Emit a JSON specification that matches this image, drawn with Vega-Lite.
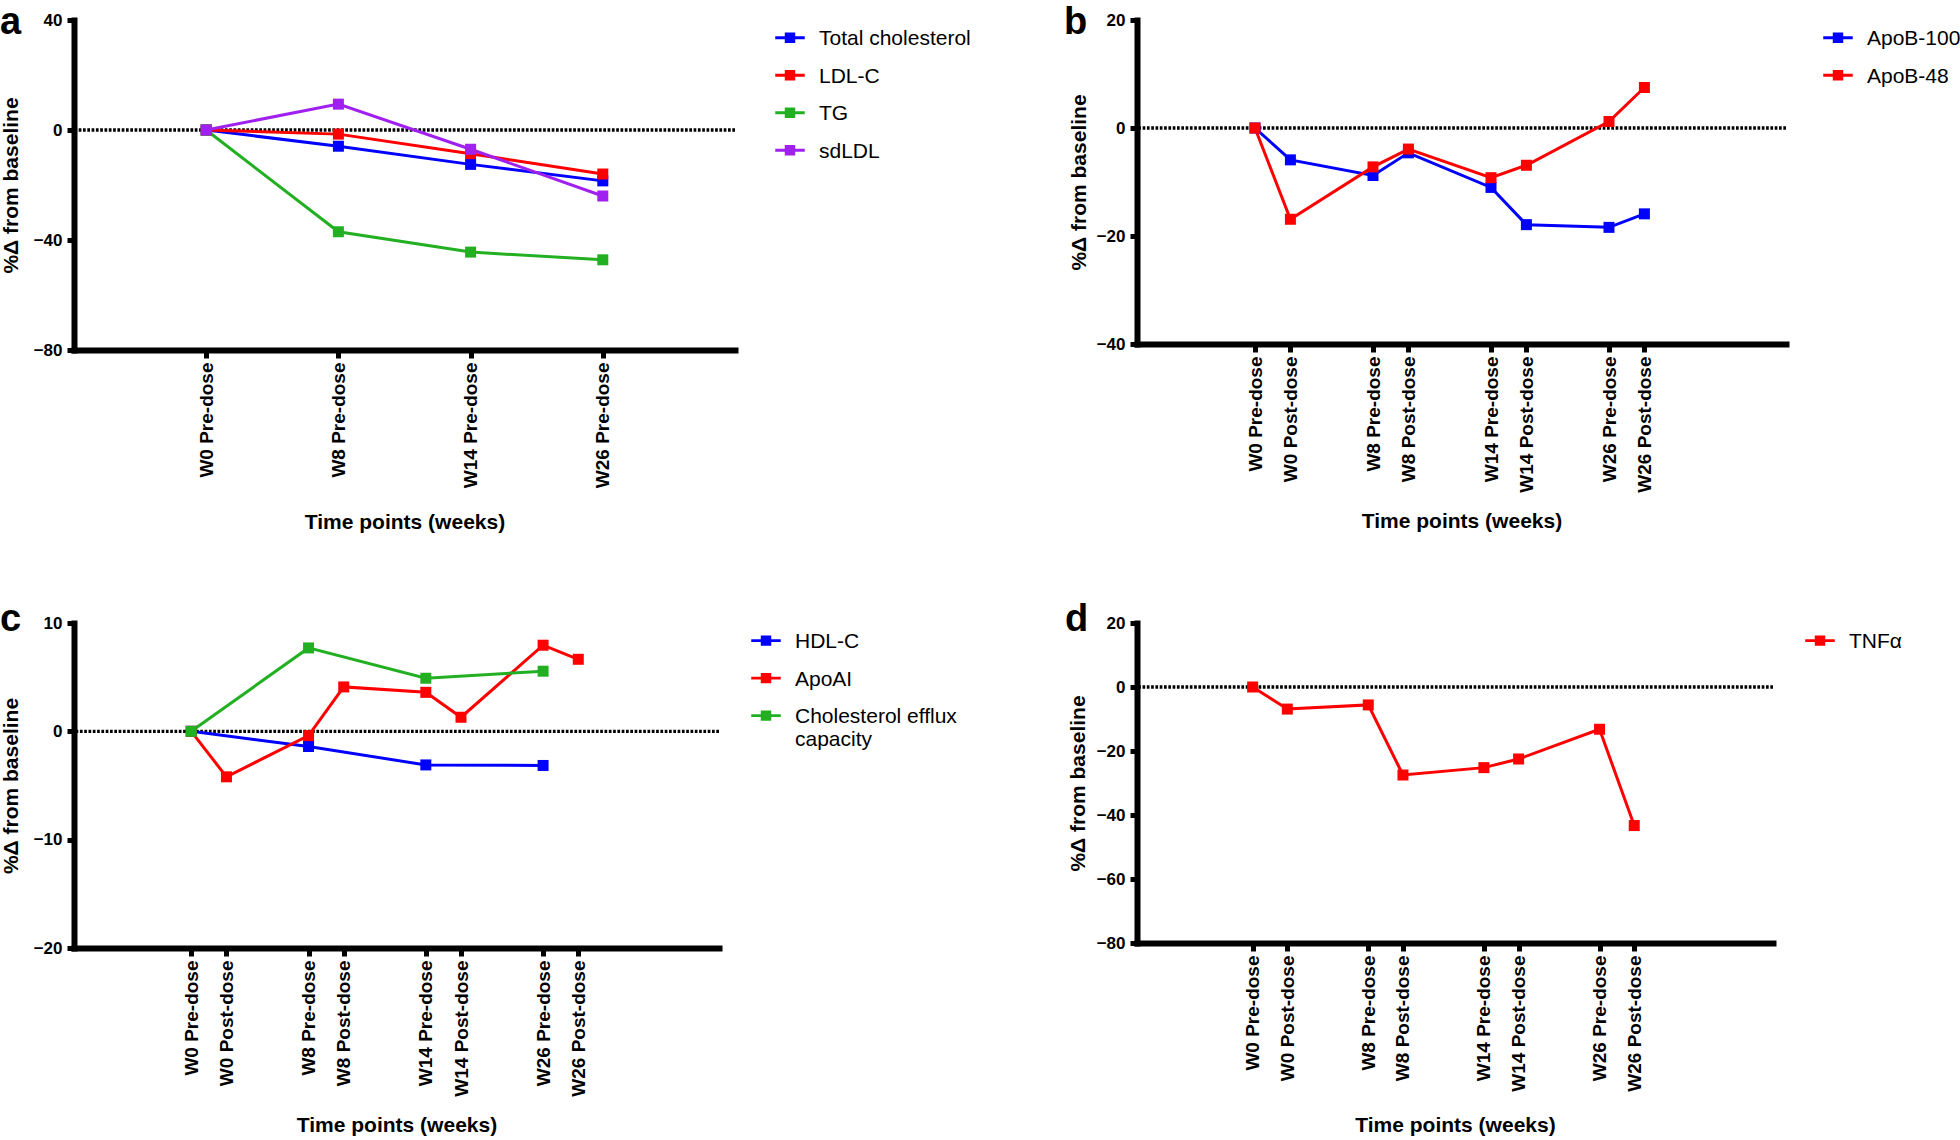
{
  "$schema": "https://vega.github.io/schema/vega-lite/v6.json",
  "padding": {"left": 0, "top": 4, "right": 5, "bottom": 5},
  "background": "white",
  "datasets": {
    "a": [
      {"time": "W0 Pre-dose", "series": "Total cholesterol", "value": 0},
      {"time": "W8 Pre-dose", "series": "Total cholesterol", "value": -5.9},
      {"time": "W14 Pre-dose", "series": "Total cholesterol", "value": -12.5},
      {"time": "W26 Pre-dose", "series": "Total cholesterol", "value": -18.5},
      {"time": "W0 Pre-dose", "series": "LDL-C", "value": 0},
      {"time": "W8 Pre-dose", "series": "LDL-C", "value": -1.5},
      {"time": "W14 Pre-dose", "series": "LDL-C", "value": -8.6},
      {"time": "W26 Pre-dose", "series": "LDL-C", "value": -16},
      {"time": "W0 Pre-dose", "series": "TG", "value": 0},
      {"time": "W8 Pre-dose", "series": "TG", "value": -37},
      {"time": "W14 Pre-dose", "series": "TG", "value": -44.4},
      {"time": "W26 Pre-dose", "series": "TG", "value": -47.2},
      {"time": "W0 Pre-dose", "series": "sdLDL", "value": 0},
      {"time": "W8 Pre-dose", "series": "sdLDL", "value": 9.4},
      {"time": "W14 Pre-dose", "series": "sdLDL", "value": -7},
      {"time": "W26 Pre-dose", "series": "sdLDL", "value": -24}
    ],
    "b": [
      {"time": "W0 Pre-dose", "series": "ApoB-100", "value": 0},
      {"time": "W0 Post-dose", "series": "ApoB-100", "value": -5.9},
      {"time": "W8 Pre-dose", "series": "ApoB-100", "value": -8.8},
      {"time": "W8 Post-dose", "series": "ApoB-100", "value": -4.6},
      {"time": "W14 Pre-dose", "series": "ApoB-100", "value": -11},
      {"time": "W14 Post-dose", "series": "ApoB-100", "value": -17.9},
      {"time": "W26 Pre-dose", "series": "ApoB-100", "value": -18.4},
      {"time": "W26 Post-dose", "series": "ApoB-100", "value": -15.9},
      {"time": "W0 Pre-dose", "series": "ApoB-48", "value": 0},
      {"time": "W0 Post-dose", "series": "ApoB-48", "value": -16.9},
      {"time": "W8 Pre-dose", "series": "ApoB-48", "value": -7.2},
      {"time": "W8 Post-dose", "series": "ApoB-48", "value": -3.9},
      {"time": "W14 Pre-dose", "series": "ApoB-48", "value": -9.2},
      {"time": "W14 Post-dose", "series": "ApoB-48", "value": -6.9},
      {"time": "W26 Pre-dose", "series": "ApoB-48", "value": 1.2},
      {"time": "W26 Post-dose", "series": "ApoB-48", "value": 7.5}
    ],
    "c": [
      {"time": "W0 Pre-dose", "series": "HDL-C", "value": 0},
      {"time": "W8 Pre-dose", "series": "HDL-C", "value": -1.4},
      {"time": "W14 Pre-dose", "series": "HDL-C", "value": -3.1},
      {"time": "W26 Pre-dose", "series": "HDL-C", "value": -3.15},
      {"time": "W0 Pre-dose", "series": "ApoAI", "value": 0},
      {"time": "W0 Post-dose", "series": "ApoAI", "value": -4.2},
      {"time": "W8 Pre-dose", "series": "ApoAI", "value": -0.4},
      {"time": "W8 Post-dose", "series": "ApoAI", "value": 4.1},
      {"time": "W14 Pre-dose", "series": "ApoAI", "value": 3.6},
      {"time": "W14 Post-dose", "series": "ApoAI", "value": 1.3},
      {"time": "W26 Pre-dose", "series": "ApoAI", "value": 7.95},
      {"time": "W26 Post-dose", "series": "ApoAI", "value": 6.65},
      {"time": "W0 Pre-dose", "series": "Cholesterol efflux capacity", "value": 0},
      {"time": "W8 Pre-dose", "series": "Cholesterol efflux capacity", "value": 7.7},
      {"time": "W14 Pre-dose", "series": "Cholesterol efflux capacity", "value": 4.9},
      {"time": "W26 Pre-dose", "series": "Cholesterol efflux capacity", "value": 5.55}
    ],
    "d": [
      {"time": "W0 Pre-dose", "series": "TNFα", "value": 0},
      {"time": "W0 Post-dose", "series": "TNFα", "value": -6.9},
      {"time": "W8 Pre-dose", "series": "TNFα", "value": -5.6},
      {"time": "W8 Post-dose", "series": "TNFα", "value": -27.5},
      {"time": "W14 Pre-dose", "series": "TNFα", "value": -25.2},
      {"time": "W14 Post-dose", "series": "TNFα", "value": -22.5},
      {"time": "W26 Pre-dose", "series": "TNFα", "value": -13.2},
      {"time": "W26 Post-dose", "series": "TNFα", "value": -43.3}
    ]
  },
  "columns": 2,
  "spacing": {"row": 273, "column": 402},
  "bounds": "flush",
  "resolve": {"scale": {"x": "independent", "y": "independent", "color": "independent"}, "legend": {"color": "independent"}, "axis": {"x": "independent", "y": "independent"}},
  "concat": [
    {
      "width": 661,
      "height": 330,
      "title": {"text": "a", "dx": -74, "dy": 35.3},
      "data": {"name": "a"},
      "layer": [
        {
          "data": {"values": [{}]},
          "mark": {"type": "rule", "strokeDash": [2.7, 1.6], "strokeWidth": 3.3, "color": "black"},
          "encoding": {"y": {"datum": 0, "type": "quantitative"}}
        },
        {
          "mark": {"type": "line", "strokeWidth": 3},
          "encoding": {
            "x": {"field": "time", "type": "nominal", "scale": {"type": "point", "domain": ["W0 Pre-dose", "W8 Pre-dose", "W14 Pre-dose", "W26 Pre-dose"], "padding": 1}, "axis": {"values": ["W0 Pre-dose", "W8 Pre-dose", "W14 Pre-dose", "W26 Pre-dose"], "title": "Time points (weeks)", "titleY": 178}},
            "y": {"field": "value", "type": "quantitative", "scale": {"domain": [-80, 40], "nice": false, "zero": false}, "axis": {"values": [-80, -40, 0, 40], "title": "%Δ from baseline", "titleX": -57}},
            "color": {"field": "series", "type": "nominal", "scale": {"domain": ["Total cholesterol", "LDL-C", "TG", "sdLDL"], "range": ["#0000FF", "#FF0000", "#22B022", "#A020F0"]}},
            "order": {"value": null}
          }
        },
        {
          "mark": {"type": "point", "shape": "square", "filled": true, "size": 121, "opacity": 1},
          "encoding": {
            "x": {"field": "time", "type": "nominal", "scale": {"type": "point", "domain": ["W0 Pre-dose", "W8 Pre-dose", "W14 Pre-dose", "W26 Pre-dose"], "padding": 1}, "axis": {"values": ["W0 Pre-dose", "W8 Pre-dose", "W14 Pre-dose", "W26 Pre-dose"], "title": "Time points (weeks)", "titleY": 178}},
            "y": {"field": "value", "type": "quantitative", "scale": {"domain": [-80, 40], "nice": false, "zero": false}, "axis": {"values": [-80, -40, 0, 40], "title": "%Δ from baseline", "titleX": -57}},
            "color": {"field": "series", "type": "nominal", "scale": {"domain": ["Total cholesterol", "LDL-C", "TG", "sdLDL"], "range": ["#0000FF", "#FF0000", "#22B022", "#A020F0"]}, "legend": {"title": null, "orient": "none", "legendX": 701, "legendY": 10.3, "symbolType": "M-1,-0.59H1V-0.49H-1ZM-0.32,-0.86H0.32V-0.22H-0.32ZM-0.22,-0.76H0.22V-0.32H-0.22ZM-0.12,-0.66H0.12V-0.42H-0.12ZM-0.02,-0.56H0.02V-0.52H-0.02Z"}}
          }
        }
      ]
    },
    {
      "width": 649,
      "height": 324,
      "title": {"text": "b", "dx": -73, "dy": 35.3},
      "data": {"name": "b"},
      "layer": [
        {
          "data": {"values": [{}]},
          "mark": {"type": "rule", "strokeDash": [2.7, 1.6], "strokeWidth": 3.3, "color": "black"},
          "encoding": {"y": {"datum": 0, "type": "quantitative"}}
        },
        {
          "mark": {"type": "line", "strokeWidth": 3},
          "encoding": {
            "x": {"field": "time", "type": "nominal", "scale": {"type": "point", "padding": 0, "domain": ["p1","p2","p3","p4","p5","p6","p7","p8","p9","p10","W0 Pre-dose","s1","s2","W0 Post-dose","s3","s4","s5","s6","s7","s8","W8 Pre-dose","s9","s10","W8 Post-dose","s11","s12","s13","s14","s15","s16","W14 Pre-dose","s17","s18","W14 Post-dose","s19","s20","s21","s22","s23","s24","W26 Pre-dose","s25","s26","W26 Post-dose","q1","q2","q3","q4","q5","q6","q7","q8","q9","q10","q11","q12"]}, "axis": {"values": ["W0 Pre-dose","W0 Post-dose","W8 Pre-dose","W8 Post-dose","W14 Pre-dose","W14 Post-dose","W26 Pre-dose","W26 Post-dose"], "title": "Time points (weeks)", "titleY": 183.5}},
            "y": {"field": "value", "type": "quantitative", "scale": {"domain": [-40, 20], "nice": false, "zero": false}, "axis": {"values": [-40, -20, 0, 20], "title": "%Δ from baseline", "titleX": -52}},
            "color": {"field": "series", "type": "nominal", "scale": {"domain": ["ApoB-100", "ApoB-48"], "range": ["#0000FF", "#FF0000"]}},
            "order": {"value": null}
          }
        },
        {
          "mark": {"type": "point", "shape": "square", "filled": true, "size": 121, "opacity": 1},
          "encoding": {
            "x": {"field": "time", "type": "nominal", "scale": {"type": "point", "padding": 0, "domain": ["p1","p2","p3","p4","p5","p6","p7","p8","p9","p10","W0 Pre-dose","s1","s2","W0 Post-dose","s3","s4","s5","s6","s7","s8","W8 Pre-dose","s9","s10","W8 Post-dose","s11","s12","s13","s14","s15","s16","W14 Pre-dose","s17","s18","W14 Post-dose","s19","s20","s21","s22","s23","s24","W26 Pre-dose","s25","s26","W26 Post-dose","q1","q2","q3","q4","q5","q6","q7","q8","q9","q10","q11","q12"]}, "axis": {"values": ["W0 Pre-dose","W0 Post-dose","W8 Pre-dose","W8 Post-dose","W14 Pre-dose","W14 Post-dose","W26 Pre-dose","W26 Post-dose"], "title": "Time points (weeks)", "titleY": 183.5}},
            "y": {"field": "value", "type": "quantitative", "scale": {"domain": [-40, 20], "nice": false, "zero": false}, "axis": {"values": [-40, -20, 0, 20], "title": "%Δ from baseline", "titleX": -52}},
            "color": {"field": "series", "type": "nominal", "scale": {"domain": ["ApoB-100", "ApoB-48"], "range": ["#0000FF", "#FF0000"]}, "legend": {"title": null, "orient": "none", "legendX": 686, "legendY": 10.3, "symbolType": "M-1,-0.59H1V-0.49H-1ZM-0.32,-0.86H0.32V-0.22H-0.32ZM-0.22,-0.76H0.22V-0.32H-0.22ZM-0.12,-0.66H0.12V-0.42H-0.12ZM-0.02,-0.56H0.02V-0.52H-0.02Z"}}
          }
        }
      ]
    },
    {
      "width": 645,
      "height": 325,
      "title": {"text": "c", "dx": -74, "dy": 29.4},
      "data": {"name": "c"},
      "layer": [
        {
          "data": {"values": [{}]},
          "mark": {"type": "rule", "strokeDash": [2.7, 1.6], "strokeWidth": 3.3, "color": "black"},
          "encoding": {"y": {"datum": 0, "type": "quantitative"}}
        },
        {
          "mark": {"type": "line", "strokeWidth": 3},
          "encoding": {
            "x": {"field": "time", "type": "nominal", "scale": {"type": "point", "padding": 0, "domain": ["p1","p2","p3","p4","p5","p6","p7","p8","p9","p10","W0 Pre-dose","s1","s2","W0 Post-dose","s3","s4","s5","s6","s7","s8","W8 Pre-dose","s9","s10","W8 Post-dose","s11","s12","s13","s14","s15","s16","W14 Pre-dose","s17","s18","W14 Post-dose","s19","s20","s21","s22","s23","s24","W26 Pre-dose","s25","s26","W26 Post-dose","q1","q2","q3","q4","q5","q6","q7","q8","q9","q10","q11","q12"]}, "axis": {"values": ["W0 Pre-dose","W0 Post-dose","W8 Pre-dose","W8 Post-dose","W14 Pre-dose","W14 Post-dose","W26 Pre-dose","W26 Post-dose"], "title": "Time points (weeks)", "titleY": 183}},
            "y": {"field": "value", "type": "quantitative", "scale": {"domain": [-20, 10], "nice": false, "zero": false}, "axis": {"values": [-20, -10, 0, 10], "title": "%Δ from baseline", "titleX": -57}},
            "color": {"field": "series", "type": "nominal", "scale": {"domain": ["HDL-C", "ApoAI", "Cholesterol efflux capacity"], "range": ["#0000FF", "#FF0000", "#22B022"]}},
            "order": {"value": null}
          }
        },
        {
          "mark": {"type": "point", "shape": "square", "filled": true, "size": 121, "opacity": 1},
          "encoding": {
            "x": {"field": "time", "type": "nominal", "scale": {"type": "point", "padding": 0, "domain": ["p1","p2","p3","p4","p5","p6","p7","p8","p9","p10","W0 Pre-dose","s1","s2","W0 Post-dose","s3","s4","s5","s6","s7","s8","W8 Pre-dose","s9","s10","W8 Post-dose","s11","s12","s13","s14","s15","s16","W14 Pre-dose","s17","s18","W14 Post-dose","s19","s20","s21","s22","s23","s24","W26 Pre-dose","s25","s26","W26 Post-dose","q1","q2","q3","q4","q5","q6","q7","q8","q9","q10","q11","q12"]}, "axis": {"values": ["W0 Pre-dose","W0 Post-dose","W8 Pre-dose","W8 Post-dose","W14 Pre-dose","W14 Post-dose","W26 Pre-dose","W26 Post-dose"], "title": "Time points (weeks)", "titleY": 183}},
            "y": {"field": "value", "type": "quantitative", "scale": {"domain": [-20, 10], "nice": false, "zero": false}, "axis": {"values": [-20, -10, 0, 10], "title": "%Δ from baseline", "titleX": -57}},
            "color": {"field": "series", "type": "nominal", "scale": {"domain": ["HDL-C", "ApoAI", "Cholesterol efflux capacity"], "range": ["#0000FF", "#FF0000", "#22B022"]}, "legend": {"title": null, "orient": "none", "legendX": 677, "legendY": 10.2, "symbolType": "M-1,-0.59H1V-0.49H-1ZM-0.32,-0.86H0.32V-0.22H-0.32ZM-0.22,-0.76H0.22V-0.32H-0.22ZM-0.12,-0.66H0.12V-0.42H-0.12ZM-0.02,-0.56H0.02V-0.52H-0.02Z", "labelExpr": "datum.label == 'Cholesterol efflux capacity' ? ['Cholesterol efflux', 'capacity'] : datum.label"}}
          }
        }
      ]
    },
    {
      "width": 636,
      "height": 320,
      "title": {"text": "d", "dx": -72, "dy": 29.4},
      "data": {"name": "d"},
      "layer": [
        {
          "data": {"values": [{}]},
          "mark": {"type": "rule", "strokeDash": [2.7, 1.6], "strokeWidth": 3.3, "color": "black"},
          "encoding": {"y": {"datum": 0, "type": "quantitative"}}
        },
        {
          "mark": {"type": "line", "strokeWidth": 3},
          "encoding": {
            "x": {"field": "time", "type": "nominal", "scale": {"type": "point", "padding": 0, "domain": ["p1","p2","p3","p4","p5","p6","p7","p8","p9","p10","W0 Pre-dose","s1","s2","W0 Post-dose","s3","s4","s5","s6","s7","s8","W8 Pre-dose","s9","s10","W8 Post-dose","s11","s12","s13","s14","s15","s16","W14 Pre-dose","s17","s18","W14 Post-dose","s19","s20","s21","s22","s23","s24","W26 Pre-dose","s25","s26","W26 Post-dose","q1","q2","q3","q4","q5","q6","q7","q8","q9","q10","q11","q12"]}, "axis": {"values": ["W0 Pre-dose","W0 Post-dose","W8 Pre-dose","W8 Post-dose","W14 Pre-dose","W14 Post-dose","W26 Pre-dose","W26 Post-dose"], "title": "Time points (weeks)", "titleY": 188}},
            "y": {"field": "value", "type": "quantitative", "scale": {"domain": [-80, 20], "nice": false, "zero": false}, "axis": {"values": [-80, -60, -40, -20, 0, 20], "title": "%Δ from baseline", "titleX": -53}},
            "color": {"field": "series", "type": "nominal", "scale": {"domain": ["TNFα"], "range": ["#FF0000"]}},
            "order": {"value": null}
          }
        },
        {
          "mark": {"type": "point", "shape": "square", "filled": true, "size": 121, "opacity": 1},
          "encoding": {
            "x": {"field": "time", "type": "nominal", "scale": {"type": "point", "padding": 0, "domain": ["p1","p2","p3","p4","p5","p6","p7","p8","p9","p10","W0 Pre-dose","s1","s2","W0 Post-dose","s3","s4","s5","s6","s7","s8","W8 Pre-dose","s9","s10","W8 Post-dose","s11","s12","s13","s14","s15","s16","W14 Pre-dose","s17","s18","W14 Post-dose","s19","s20","s21","s22","s23","s24","W26 Pre-dose","s25","s26","W26 Post-dose","q1","q2","q3","q4","q5","q6","q7","q8","q9","q10","q11","q12"]}, "axis": {"values": ["W0 Pre-dose","W0 Post-dose","W8 Pre-dose","W8 Post-dose","W14 Pre-dose","W14 Post-dose","W26 Pre-dose","W26 Post-dose"], "title": "Time points (weeks)", "titleY": 188}},
            "y": {"field": "value", "type": "quantitative", "scale": {"domain": [-80, 20], "nice": false, "zero": false}, "axis": {"values": [-80, -60, -40, -20, 0, 20], "title": "%Δ from baseline", "titleX": -53}},
            "color": {"field": "series", "type": "nominal", "scale": {"domain": ["TNFα"], "range": ["#FF0000"]}, "legend": {"title": null, "orient": "none", "legendX": 668, "legendY": 10.2, "symbolType": "M-1,-0.59H1V-0.49H-1ZM-0.32,-0.86H0.32V-0.22H-0.32ZM-0.22,-0.76H0.22V-0.32H-0.22ZM-0.12,-0.66H0.12V-0.42H-0.12ZM-0.02,-0.56H0.02V-0.52H-0.02Z"}}
          }
        }
      ]
    }
  ],
  "config": {
    "font": "Liberation Sans",
    "view": {"stroke": null},
    "axis": {
      "grid": false,
      "domainColor": "black",
      "domainWidth": 6,
      "domainCap": "square",
      "tickColor": "black",
      "tickWidth": 5,
      "tickSize": 7,
      "labelColor": "black",
      "labelFont": "Liberation Sans",
      "labelFontWeight": "bold",
      "titleFont": "Liberation Sans",
      "titleFontWeight": "bold",
      "titleFontSize": 21,
      "titleColor": "black",
      "labelOverlap": false
    },
    "axisY": {"labelFontSize": 17, "labelPadding": 5, "titleAngle": 270, "titleBaseline": "alphabetic"},
    "axisX": {"labelFontSize": 19, "labelAngle": 270, "labelPadding": 4, "tickSize": 8, "titleBaseline": "alphabetic"},
    "legend": {
      "padding": 0,
      "labelFont": "Liberation Sans",
      "labelFontSize": 21,
      "labelFontWeight": "normal",
      "labelColor": "black",
      "labelBaseline": "alphabetic",
      "labelOffset": 14,
      "labelLimit": 400,
      "symbolSize": 784,
      "symbolStrokeWidth": 1.5,
      "rowPadding": 16.5
    },
    "title": {
      "anchor": "start",
      "frame": "group",
      "orient": "top",
      "fontSize": 38,
      "fontWeight": "bold",
      "font": "Liberation Sans",
      "color": "black",
      "offset": 0,
      "baseline": "alphabetic"
    }
  }
}
